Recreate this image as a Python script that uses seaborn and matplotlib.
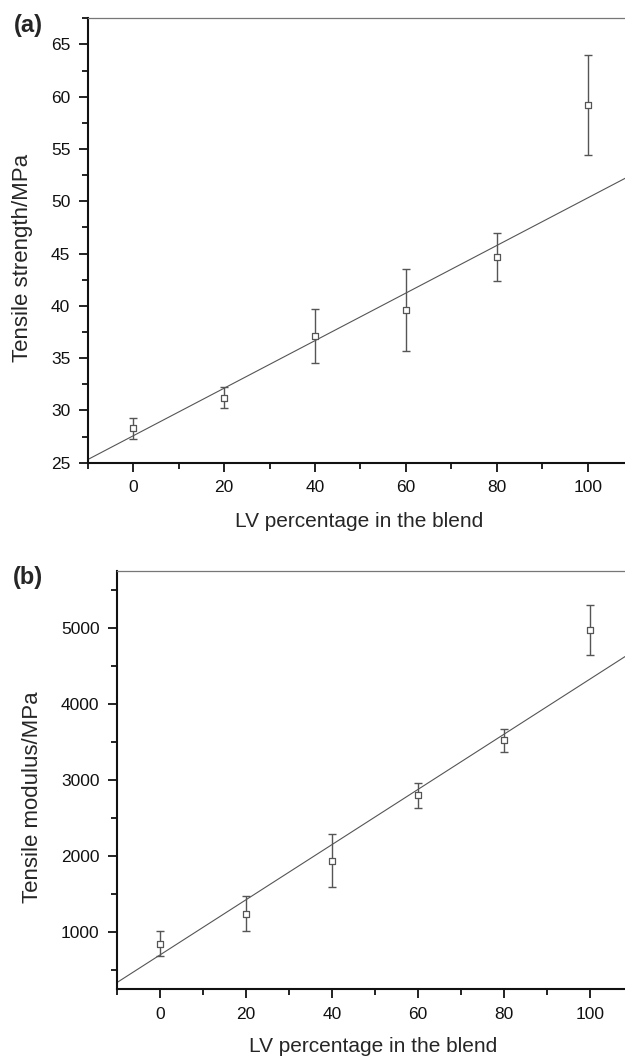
import matplotlib
matplotlib.use('Agg')
import matplotlib.pyplot as plt
import seaborn as sns
from matplotlib.ticker import MultipleLocator

# ── data ──────────────────────────────────────────────────
lv_pct = [0, 20, 40, 60, 80, 100]

strength = [28.3, 31.2, 37.1, 39.6, 44.65, 59.2]
strength_err = [1.0, 1.0, 2.6, 3.95, 2.3, 4.8]

modulus = [850, 1240, 1940, 2800, 3520, 4975]
modulus_err = [165, 230, 350, 165, 150, 330]

fit_x = [-10, 110]
fit_strength = [25.3, 52.6]
fit_modulus = [337, 4686]

sns.set_style("ticks")
plt.rcParams['font.family'] = ['Liberation Sans', 'DejaVu Sans']

fig = plt.figure(figsize=(6.25, 10.56), dpi=100)
ax_a = fig.add_axes([0.1403, 0.5618, 0.8597, 0.4209])
ax_b = fig.add_axes([0.1869, 0.0632, 0.8131, 0.3964])


def draw_panel(ax, y, yerr, fit_y, ylim, major, minor, ylabel, ylab_x, xlab_y):
    sns.lineplot(x=fit_x, y=fit_y, ax=ax, color='#555555', lw=0.8)
    ax.errorbar(lv_pct, y, yerr=yerr, fmt='none', ecolor='#555555',
                elinewidth=1.0, capsize=3, capthick=1.0)
    sns.scatterplot(x=lv_pct, y=y, ax=ax, marker='s', s=13,
                    facecolor='white', edgecolor='#555555', linewidth=0.9,
                    zorder=3)
    ax.set_xlim(-10, 108.2)
    ax.set_ylim(*ylim)
    ax.xaxis.set_major_locator(MultipleLocator(20))
    ax.xaxis.set_minor_locator(MultipleLocator(10))
    ax.yaxis.set_major_locator(MultipleLocator(major))
    ax.yaxis.set_minor_locator(MultipleLocator(minor))
    ax.tick_params(which='major', length=6.5, width=1.3, labelsize=12.5,
                   colors='#111111', pad=6)
    ax.tick_params(which='minor', length=4, width=1.3, colors='#111111')
    for s in ['left', 'bottom']:
        ax.spines[s].set_linewidth(1.5)
        ax.spines[s].set_color('#111111')
    ax.spines['right'].set_visible(False)
    ax.spines['top'].set_linewidth(0.9)
    ax.spines['top'].set_color('#777777')
    ax.set_xlabel('LV percentage in the blend', fontsize=15)
    ax.set_ylabel(ylabel, fontsize=16)
    ax.yaxis.set_label_coords(ylab_x, 0.46)
    ax.xaxis.set_label_coords(0.505, xlab_y)


draw_panel(ax_a, strength, strength_err, fit_strength, (25, 67.5), 5, 2.5,
           'Tensile strength/MPa', -0.102, -0.111)
draw_panel(ax_b, modulus, modulus_err, fit_modulus, (250, 5750), 1000, 500,
           'Tensile modulus/MPa', -0.145, -0.114)

fig.text(0.045, 0.976, '(a)', fontsize=17, fontweight='bold',
         ha='center', va='center')
fig.text(0.045, 0.453, '(b)', fontsize=17, fontweight='bold',
         ha='center', va='center')

fig.savefig('out.png', dpi=100)
plt.close()
